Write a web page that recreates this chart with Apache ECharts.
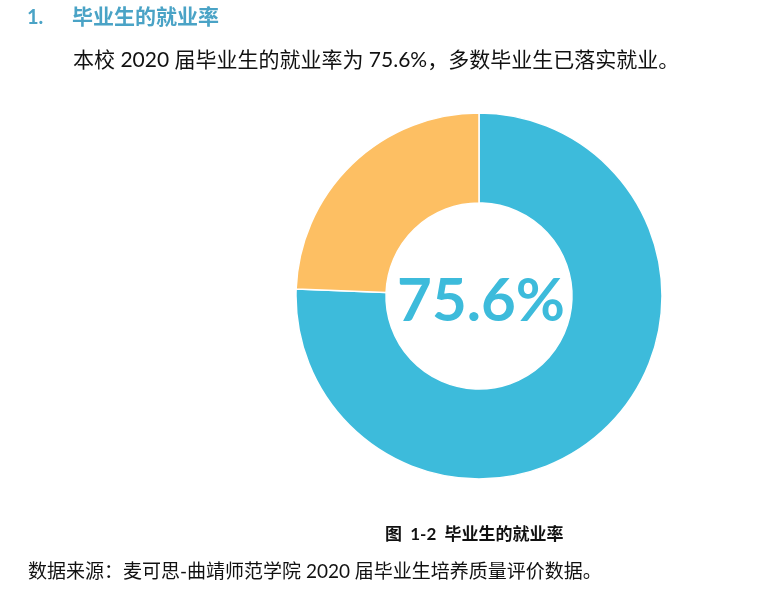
<!DOCTYPE html>
<html>
<head>
<meta charset="utf-8">
<script src="https://cdn.jsdelivr.net/npm/echarts@6/dist/echarts.min.js"></script>
<style>
	html, body { margin: 0; padding: 0; background: #fff; }
	#main { width: 781px; height: 609px; }
</style>
</head>
<body>
<div id="main"></div>
<script>
	// 数据
	var categories = ['已就业', '未就业'];
	var values = [75.6, 24.4];
	var colors = ['#3dbbdb', '#fdbf63'];

	var cjk = "Lato, 'Noto Sans CJK SC', sans-serif";

	var myChart = echarts.init(document.getElementById('main'));
	var option = {
		animation: false,
		graphic: [
			{ type: 'text', left: 27, top: 8, style: { text: '1.', fill: '#4aa3c6', font: 'bold 20px ' + cjk } },
			{ type: 'text', left: 72, top: 7, style: { text: '毕业生的就业率', fill: '#4aa3c6', font: 'bold 21px ' + cjk } },
			{ type: 'text', left: 73, top: 50, style: { text: '本校 2020 届毕业生的就业率为 75.6%，多数毕业生已落实就业。', fill: '#111', font: '21px ' + cjk } },
			{ type: 'text', left: 385, top: 526, style: { text: '图  1-2  毕业生的就业率', fill: '#111', font: 'bold 17px ' + cjk } },
			{ type: 'text', left: 28, top: 562, style: { text: '数据来源：麦可思-曲靖师范学院 2020 届毕业生培养质量评价数据。', fill: '#111', font: '19px ' + cjk } }
		],
		series: [{
			type: 'pie',
			center: [479, 296],
			radius: [93, 183],
			startAngle: 90,
			clockwise: true,
			silent: true,
			itemStyle: { borderColor: '#fff', borderWidth: 1.5 },
			label: { show: false },
			labelLine: { show: false },
			data: categories.map(function (c, i) {
				return { name: c, value: values[i], itemStyle: { color: colors[i] } };
			})
		}],
		title: {
			text: values[0] + '%',
			left: 476,
			top: 297,
			textAlign: 'center',
			textVerticalAlign: 'middle',
			textStyle: { color: '#3dbbdb', fontSize: 60, fontWeight: 'bold', fontFamily: 'Lato' }
		}
	};
	myChart.setOption(option);
	window.addEventListener('resize', myChart.resize);
</script>
</body>
</html>
